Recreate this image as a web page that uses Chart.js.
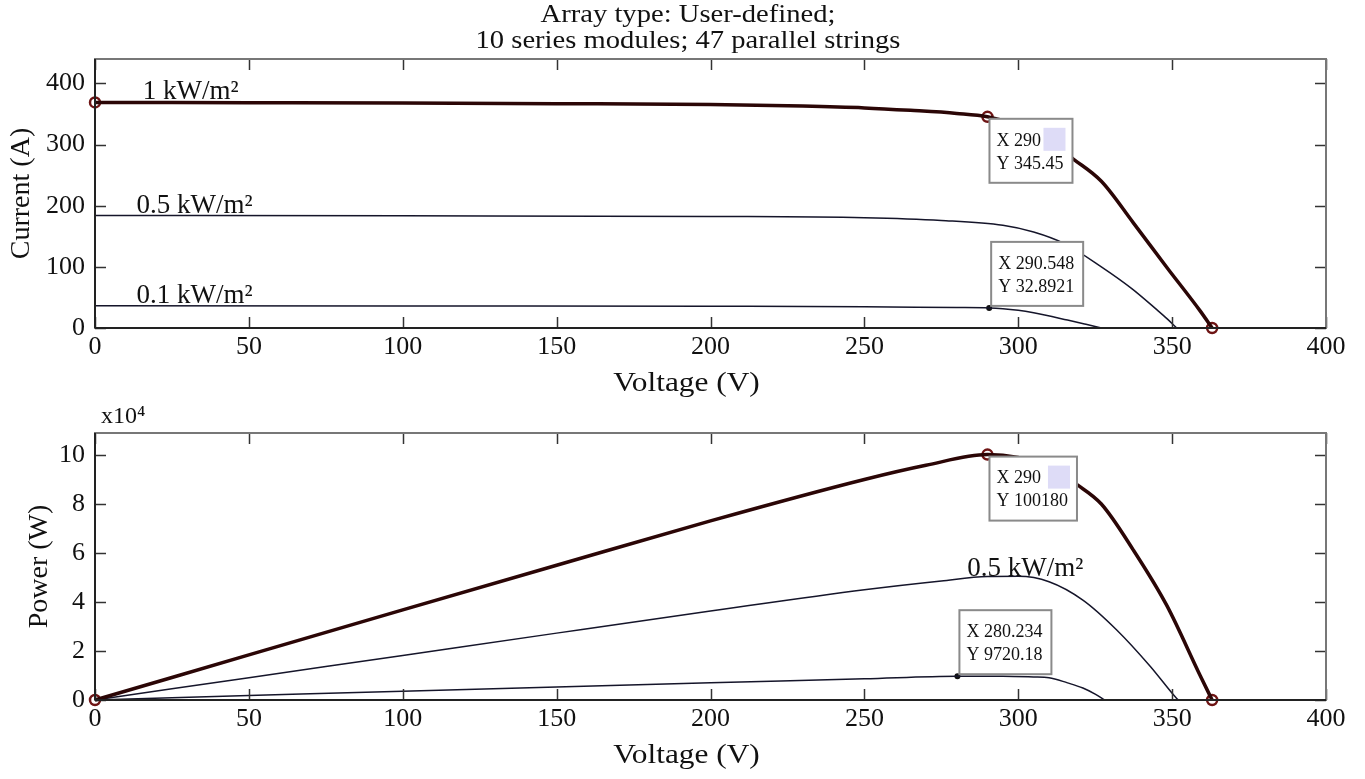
<!DOCTYPE html>
<html>
<head>
<meta charset="utf-8">
<script src="https://cdn.jsdelivr.net/npm/chart.js@4.4.1/dist/chart.umd.min.js"></script>
<style>
  body { margin: 0; background: #fff; width: 1365px; height: 779px; overflow: hidden; position: relative; }
  .panel { position: absolute; left: 0; width: 1365px; }
  #title { position: absolute; left: 0; top: 1px; width: 1376px; text-align: center;
           font-family: "Liberation Serif", serif; font-size: 26px; line-height: 26px; color: #111;
           transform: scaleX(1.1); transform-origin: 688px 0; }
</style>
</head>
<body>
<div class="panel" style="top:0;height:400px"><canvas id="iv"></canvas></div>
<div class="panel" style="top:400px;height:379px"><canvas id="pv"></canvas></div>
<div id="title">Array type: User-defined;<br>10 series modules; 47 parallel strings</div>

<script>
// ═══════════════════════════════════════
// DATA
// ═══════════════════════════════════════
// I-V curves
const vIV1  = [0, 50, 100, 150, 200, 230, 250, 265, 280, 290, 300, 310, 318, 327, 337.4, 348.3, 359.1, 363];
const iIV1  = [369, 368.5, 368, 367, 365.5, 363, 360, 356, 351, 345.45, 331, 306, 276, 240, 172, 99, 28, 0];
const vIV05 = [0, 100, 200, 250, 275, 295, 305, 315, 327, 337, 345, 348.4, 351.5];
const iIV05 = [184, 183.5, 182.5, 180.5, 176, 168, 157, 138, 100, 64, 30, 15, 0];
const vIV01 = [0, 100, 200, 250, 280, 290.548, 300, 305, 316, 322, 327];
const iIV01 = [36.5, 36, 35.5, 34.8, 33.5, 32.8921, 29, 25, 13, 6, 0];

// P-V curves
const vPV1  = [0, 50, 100, 150, 200, 250, 270, 290, 300, 310, 319, 327, 337.4, 348.3, 359.1, 363];
const pPV1  = [0, 18400, 36800, 55000, 73100, 90000, 95800, 100180, 99000, 95500, 88000, 80000, 61200, 38500, 10000, 0];
const vPV05 = [0, 50, 100, 150, 200, 250, 275, 290, 300, 310, 321, 332, 343, 351, 352];
const pPV05 = [0, 9100, 18200, 27300, 36300, 45000, 48600, 50400, 50500, 48300, 40800, 28600, 13600, 1300, 0];
const vPV01 = [0, 50, 100, 150, 200, 250, 280.234, 295, 305, 310, 316, 321, 325, 328];
const pPV01 = [0, 1800, 3600, 5350, 7050, 8650, 9720.18, 9700, 9400, 9100, 7000, 4900, 2400, 0];

// circle markers and data-tip dots
const ivCircleV = [0, 290, 363];
const ivCircleI = [369, 345.45, 0];
const pvCircleV = [0, 290, 363];
const pvCircleP = [0, 100180, 0];
const ivDotV = [290.548], ivDotI = [32.8921];
const pvDotV = [280.234], pvDotP = [9720.18];

// axes
const xTicks = [0, 50, 100, 150, 200, 250, 300, 350, 400];
const ivTicks = [0, 100, 200, 300, 400];
const pvTicks = [0, 20000, 40000, 60000, 80000, 100000];

const zip = (xs, ys) => xs.map((x, i) => ({ x, y: ys[i] }));
const SERIF = '"Liberation Serif", "Times New Roman", serif';

// ═══════════════════════════════════════
// DECORATION PLUGIN (box, inward ticks, labels, data tips)
// ═══════════════════════════════════════
const deco = {
  id: 'deco',
  afterDatasetsDraw(chart, args, o) {
    const { ctx, chartArea: a, scales: { x, y } } = chart;
    ctx.save();

    // inward ticks on all four sides
    ctx.strokeStyle = '#333';
    ctx.lineWidth = 1.5;
    const seg = (x1, y1, x2, y2) => { ctx.beginPath(); ctx.moveTo(x1, y1); ctx.lineTo(x2, y2); ctx.stroke(); };
    x.ticks.forEach(t => {
      const px = Math.round(x.getPixelForValue(t.value)) + 0.5;
      seg(px, a.bottom, px, a.bottom - 11);
      seg(px, a.top, px, a.top + 11);
    });
    y.ticks.forEach(t => {
      const py = Math.round(y.getPixelForValue(t.value)) + 0.5;
      seg(a.left, py, a.left + 11, py);
      seg(a.right, py, a.right - 11, py);
    });

    // axes box
    ctx.lineWidth = 2;
    ctx.strokeStyle = '#777';
    ctx.strokeRect(a.left, a.top, a.width, a.height);
    ctx.strokeStyle = '#222';
    seg(a.left, a.top, a.left, a.bottom);
    seg(a.left, a.bottom, a.right, a.bottom);

    // curve labels
    ctx.fillStyle = '#111';
    ctx.textBaseline = 'alphabetic';
    ctx.textAlign = 'left';
    ctx.font = '27px ' + SERIF;
    (o.labels || []).forEach(l => {
      ctx.fillText(l.text, x.getPixelForValue(l.x), y.getPixelForValue(l.y));
    });

    // data tips
    (o.tips || []).forEach(tp => {
      const px = x.getPixelForValue(tp.x), py = y.getPixelForValue(tp.y);
      const lines = ['X ' + tp.x, 'Y ' + tp.y];
      ctx.font = '18px ' + SERIF;
      const w = Math.max(...lines.map(s => ctx.measureText(s).width)) + 16;
      const h = 64;
      const left = px + 2;
      const top = tp.above ? py - h - 2 : py + 2;
      ctx.fillStyle = '#fff';
      ctx.fillRect(left, top, w, h);
      ctx.strokeStyle = '#8a8a8a';
      ctx.lineWidth = 2;
      ctx.strokeRect(left, top, w, h);
      if (tp.swatch) {
        ctx.fillStyle = '#dedcf7';
        ctx.fillRect(left + w - 29, top + 9, 22, 23);
      }
      ctx.fillStyle = '#111';
      ctx.textBaseline = 'middle';
      ctx.fillText(lines[0], left + 7, top + 22);
      ctx.fillText(lines[1], left + 7, top + 45);
      ctx.textBaseline = 'alphabetic';
    });

    // axis titles
    ctx.fillStyle = '#111';
    ctx.font = '28px ' + SERIF;
    ctx.textAlign = 'center';
    ctx.textBaseline = 'middle';
    ctx.save();
    ctx.translate((a.left + a.right) / 2 - 24, a.bottom + 56);
    ctx.scale(1.12, 1);
    ctx.fillText(o.xTitle, 0, 0);
    ctx.restore();
    ctx.save();
    ctx.translate(a.left - o.yTitleGap, (a.top + a.bottom) / 2);
    ctx.rotate(-Math.PI / 2);
    ctx.fillText(o.yTitle, 0, 0);
    ctx.restore();

    if (o.exponent) {
      ctx.textAlign = 'left';
      ctx.font = '24px ' + SERIF;
      ctx.fillText(o.exponent, a.left + 6, a.top - 16);
    }
    ctx.restore();
  }
};

// ═══════════════════════════════════════
// CHART BUILDER
// ═══════════════════════════════════════
const curve = (data, heavy) => ({
  data, showLine: true, clip: false, pointRadius: 0,
  borderColor: heavy ? '#2b0606' : '#15152a',
  borderWidth: heavy ? 3.5 : 1.5,
  cubicInterpolationMode: 'monotone'
});
const circles = data => ({
  data, showLine: false, clip: false, pointRadius: 5, pointBorderWidth: 2.5,
  pointBorderColor: '#6e1414', pointBackgroundColor: 'rgba(255,255,255,0)'
});
const dots = data => ({
  data, showLine: false, clip: false, pointRadius: 3, pointBorderWidth: 0,
  pointBackgroundColor: '#111'
});

function makeChart(id, datasets, yCfg, xAxisH, padTop, deco_opts) {
  return new Chart(document.getElementById(id), {
    type: 'line',
    data: { datasets },
    options: {
      responsive: true,
      maintainAspectRatio: false,
      animation: false,
      events: [],
      layout: { padding: { left: 0, right: 39, top: padTop, bottom: 0 } },
      plugins: { legend: { display: false }, tooltip: { enabled: false }, deco: deco_opts },
      scales: {
        x: {
          type: 'linear', min: 0, max: 400,
          grid: { display: false, drawTicks: false }, border: { display: false },
          afterBuildTicks: s => { s.ticks = xTicks.map(v => ({ value: v })); },
          afterFit: s => { s.height = xAxisH; },
          ticks: { padding: 4, color: '#111', font: { family: SERIF, size: 26 }, maxRotation: 0 }
        },
        y: Object.assign({
          type: 'linear', min: 0,
          grid: { display: false, drawTicks: false }, border: { display: false },
          afterFit: s => { s.width = 95; }
        }, yCfg)
      }
    },
    plugins: [deco]
  });
}

makeChart('iv', [
  curve(zip(vIV1, iIV1), true),
  curve(zip(vIV05, iIV05)),
  curve(zip(vIV01, iIV01)),
  circles(zip(ivCircleV, ivCircleI)),
  dots(zip(ivDotV, ivDotI))
], {
  max: 440,
  afterBuildTicks: s => { s.ticks = ivTicks.map(v => ({ value: v })); },
  ticks: { padding: 10, color: '#111', font: { family: SERIF, size: 26 } }
}, 72, 59, {
  xTitle: 'Voltage (V)', yTitle: 'Current (A)', yTitleGap: 73,
  labels: [
    { text: '1 kW/m²', x: 15.5, y: 374 },
    { text: '0.5 kW/m²', x: 13.5, y: 188 },
    { text: '0.1 kW/m²', x: 13.5, y: 41 }
  ],
  tips: [
    { x: 290, y: 345.45, swatch: true },
    { x: 290.548, y: 32.8921, above: true }
  ]
});

makeChart('pv', [
  curve(zip(vPV1, pPV1), true),
  curve(zip(vPV05, pPV05)),
  curve(zip(vPV01, pPV01)),
  circles(zip(pvCircleV, pvCircleP)),
  dots(zip(pvDotV, pvDotP))
], {
  max: 109000,
  afterBuildTicks: s => { s.ticks = pvTicks.map(v => ({ value: v })); },
  ticks: { padding: 10, color: '#111', font: { family: SERIF, size: 26 }, callback: v => v / 10000 }
}, 79, 33, {
  xTitle: 'Voltage (V)', yTitle: 'Power (W)', yTitleGap: 55, exponent: 'x10⁴',
  labels: [
    { text: '0.5 kW/m²', x: 283.4, y: 50600 }
  ],
  tips: [
    { x: 290, y: 100180, swatch: true },
    { x: 280.234, y: 9720.18, above: true }
  ]
});
</script>
</body>
</html>
